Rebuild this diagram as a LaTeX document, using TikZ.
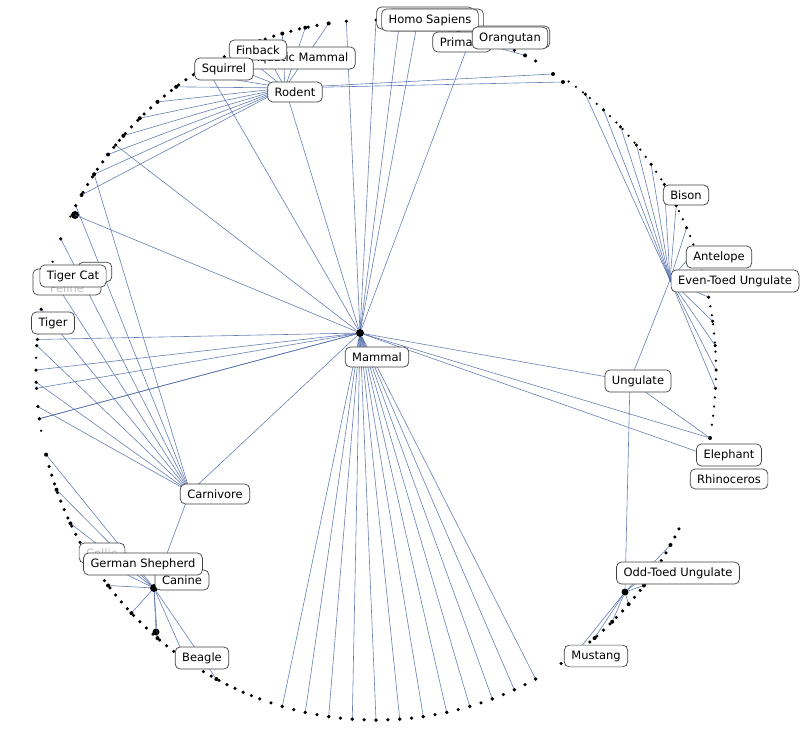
\documentclass[tikz,border=0pt]{standalone}
\usepackage{fontspec}
\setmainfont{DejaVu Sans}
\begin{document}
\begin{tikzpicture}[x=1pt,y=-1pt,
  edge/.style={draw={rgb,255:red,76;green,104;blue,168},line width=0.6pt,opacity=0.85},
  lab/.style={draw=black!75,fill=white,rounded corners=5pt,inner xsep=7pt,inner ysep=5.5pt,font=\fontsize{11.5}{13}\selectfont,line width=0.7pt},
  ghost/.style={lab,text=black!25},
  dot/.style={circle,fill=black,inner sep=0pt,minimum size=#1},
  dot/.default=4pt]
\useasboundingbox (0,0) rectangle (800,735);
% hubs
\node[dot=8pt] (mammal) at (360,333) {};
\coordinate (rodent) at (285,88);
\coordinate (carn) at (190,492);
\node[dot=8pt] (canine) at (154,588) {};
\node[dot=7pt] (canine2) at (156,632) {};
\coordinate (ungul) at (630,381);
\coordinate (even) at (670,280);
\node[dot=7pt] (odd) at (625,592) {};
\coordinate (prim) at (470,40);
% dense ring dots
\foreach \a in {100,101.5,...,150,62,64,...,82,-27,-28.5,...,-58,-62,-64,...,-108,-110,-111.5,...,-165} {
  \node[dot=3.5pt] (d) at ({376+340*cos(\a)},{370-350*sin(\a)}) {};
}
\foreach \a in {-9,-7.5,...,56,150,154,...,192} {
  \node[dot=2.5pt] (d) at ({376+340*cos(\a)},{370-350*sin(\a)}) {};
}
% rodent leaves (upper-left)
\foreach \a in {98,102,106,110,114,118,122,126,130,134,138,142,146,150} {
  \coordinate (r\a) at ({376+340*cos(\a)},{370-350*sin(\a)});
  \draw[edge] (rodent) -- (r\a);
  \node[dot] at (r\a) {};
}
\coordinate (tr1) at (553,74); \coordinate (tr2) at (563,82);
\draw[edge] (rodent) -- (tr1); \draw[edge] (rodent) -- (tr2);
\node[dot] at (tr1) {}; \node[dot] at (tr2) {};
% primates
\foreach \a in {80,76,72,68,64} {
  \coordinate (p\a) at ({376+340*cos(\a)},{370-350*sin(\a)});
  \draw[edge] (prim) -- (p\a);
  \node[dot] at (p\a) {};
}
% even toed (right arc)
\foreach \a in {52,48,44,40,36,32,28,24,20,16,12,8,4,0,-3} {
  \coordinate (e\a) at ({376+340*cos(\a)},{370-350*sin(\a)});
  \draw[edge] (even) -- (e\a);
  \node[dot=3.5pt] at (e\a) {};
}
\draw[edge] (ungul) -- (even);
% odd toed (lower right)
\foreach \a in {-30,-34,-38,-42,-46,-50,-54} {
  \coordinate (o\a) at ({376+340*cos(\a)},{370-350*sin(\a)});
  \draw[edge] (odd) -- (o\a);
  \node[dot] at (o\a) {};
}
\draw[edge] (ungul) -- (odd);
\coordinate (eleph) at (710,438);
\draw[edge] (ungul) -- (eleph); \node[dot] at (eleph) {};
% canine (lower left)
\foreach \a in {-118,-124,-130,-136,-142,-148,-154,-160,-166} {
  \coordinate (c\a) at ({376+340*cos(\a)},{370-350*sin(\a)});
  \draw[edge] (canine) -- (c\a);
  \node[dot] at (c\a) {};
}
\draw[edge] (canine) -- (canine2);
\draw[edge] (carn) -- (canine);
% feline (left)
\foreach \a in {146,152,158,164,170,176,182,186} {
  \coordinate (f\a) at ({376+340*cos(\a)},{370-350*sin(\a)});
  \draw[edge] (carn) -- (f\a);
  \node[dot=3.5pt] at (f\a) {};
}
\coordinate (fa) at (75,215);
\node[dot=8pt] at (fa) {};
% mammal edges
\draw[edge] (mammal) -- (rodent);
\draw[edge] (mammal) -- (carn);
\draw[edge] (mammal) -- (ungul);
\draw[edge] (mammal) -- (eleph);
\draw[edge] (mammal) -- (prim);
\draw[edge] (mammal) -- (fa);
\foreach \a in {95,90,86,83,120,140,175,180,183,188,-14,-62,-66,-70,-74,-78,-82,-86,-90,-94,-98,-102,-106,-172} {
  \coordinate (m\a) at ({376+340*cos(\a)},{370-350*sin(\a)});
  \draw[edge] (mammal) -- (m\a);
  \node[dot=3.5pt] at (m\a) {};
}
% labels
\node[ghost] at (262,54) {Whale};
\node[lab] (aqm) at (300,58) {Aquatic Mammal};
\node[lab] (finback) at (258,50) {Finback};
\node[lab] at (224,69) {Squirrel};
\node[lab] at (295,92) {Rodent};
\node[ghost] at (425,18) {Homo Sapiens};
\node[ghost] at (435,20) {Homo Sapiens};
\node[lab] at (462,42) {Primate};
\node[ghost] at (512,37) {Orangutan};
\node[lab] at (430,20) {Homo Sapiens};
\node[lab] at (510,38) {Orangutan};
\node[lab] at (686,195) {Bison};
\node[lab] at (719,257) {Antelope};
\node[lab] at (735,281) {Even-Toed Ungulate};
\node[lab] at (638,381) {Ungulate};
\node[lab] at (729,455) {Elephant};
\node[lab] at (729,479) {Rhinoceros};
\node[lab] at (678,573) {Odd-Toed Ungulate};
\node[lab] at (596,656) {Mustang};
\node[lab] at (377,357) {Mammal};
\node[lab] at (215,494) {Carnivore};
\node[lab] at (95,272) {Cat};
\node[ghost,align=center,inner ysep=2pt] at (67,282) {Domestic\\Feline};
\node[lab] at (73,276) {Tiger Cat};
\node[lab] at (53,323) {Tiger};
\node[ghost] at (102,553) {Collie};
\node[lab] at (182,580) {Canine};
\node[lab] at (143,564) {German Shepherd};
\node[lab] at (202,658) {Beagle};
\end{tikzpicture}
\end{document}
